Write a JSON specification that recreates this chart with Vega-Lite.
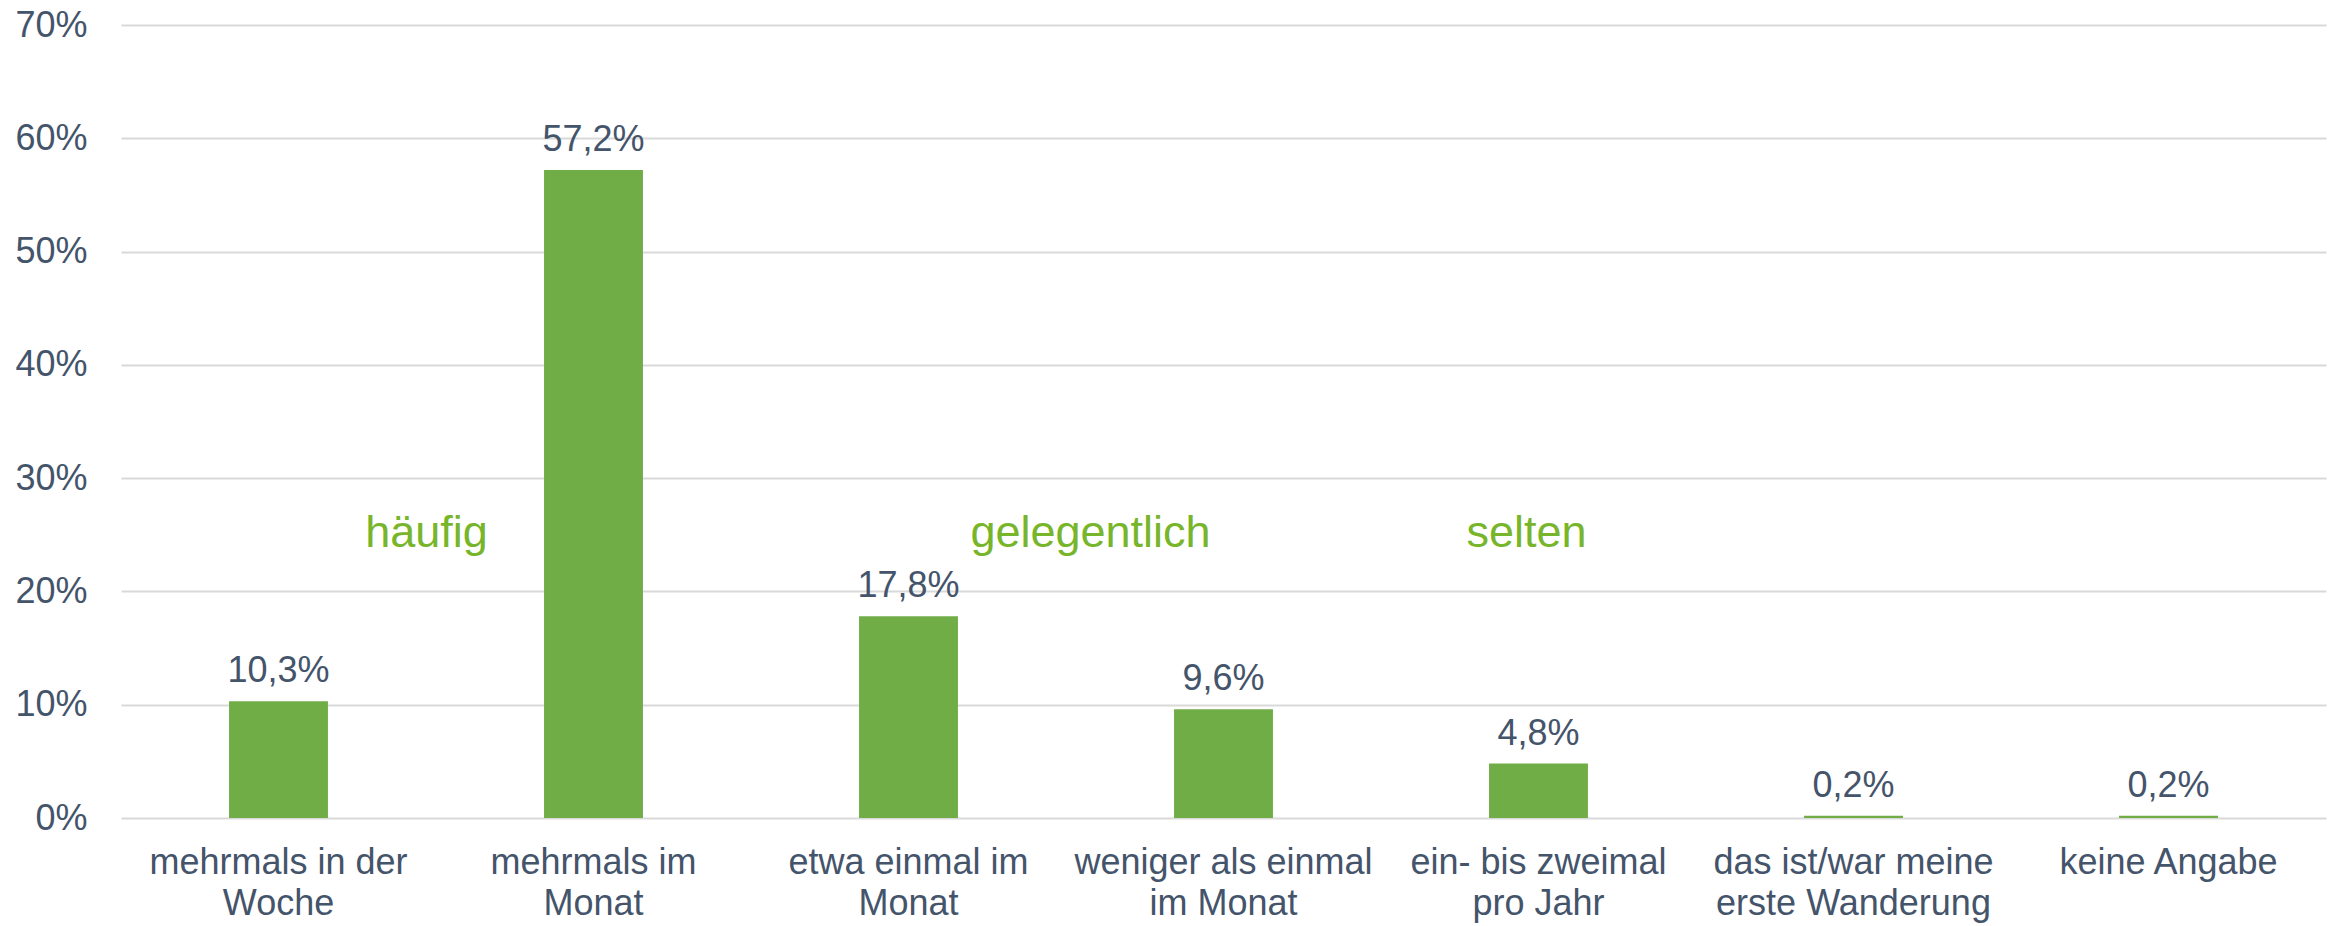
{
  "$schema": "https://vega.github.io/schema/vega-lite/v6.json",
  "width": 2205,
  "height": 793,
  "autosize": {"type": "none"},
  "padding": {"left": 121, "top": 25, "right": 2, "bottom": 108},
  "background": "white",
  "config": {
    "view": {"stroke": null},
    "font": "Liberation Sans",
    "locale": {"number": {"decimal": ",", "thousands": ".", "grouping": [3], "currency": ["", " €"]}}
  },
  "data": {
    "values": [
      {"kategorie": "mehrmals in der\nWoche", "anteil": 0.103},
      {"kategorie": "mehrmals im\nMonat", "anteil": 0.572},
      {"kategorie": "etwa einmal im\nMonat", "anteil": 0.178},
      {"kategorie": "weniger als einmal\nim Monat", "anteil": 0.096},
      {"kategorie": "ein- bis zweimal\npro Jahr", "anteil": 0.048},
      {"kategorie": "das ist/war meine\nerste Wanderung", "anteil": 0.002},
      {"kategorie": "keine Angabe", "anteil": 0.002}
    ]
  },
  "encoding": {
    "x": {
      "field": "kategorie",
      "type": "nominal",
      "sort": null,
      "scale": {"paddingInner": 0.686, "paddingOuter": 0.343},
      "axis": {
        "title": null,
        "labelAngle": 0,
        "domain": false,
        "ticks": false,
        "labelFontSize": 36,
        "labelColor": "#44546A",
        "labelPadding": 27,
        "labelLineHeight": 41,
        "labelLimit": 0,
        "labelExpr": "split(datum.label, '\\n')"
      }
    },
    "y": {
      "field": "anteil",
      "type": "quantitative",
      "scale": {"domain": [0, 0.7], "nice": false},
      "axis": {
        "title": null,
        "format": ".0%",
        "values": [0, 0.1, 0.2, 0.3, 0.4, 0.5, 0.6, 0.7],
        "labelOverlap": false,
        "domain": false,
        "ticks": false,
        "labelFontSize": 36,
        "labelColor": "#44546A",
        "labelPadding": 34,
        "gridColor": "#D9D9D9",
        "gridWidth": 2
      }
    }
  },
  "layer": [
    {"mark": {"type": "bar", "color": "#70AD47"}},
    {
      "mark": {"type": "text", "baseline": "alphabetic", "dy": -19, "fontSize": 36, "color": "#44546A"},
      "encoding": {"text": {"field": "anteil", "type": "quantitative", "format": ".1%"}}
    },
    {
      "data": {"values": [{"gruppe": "häufig", "kategorie": "mehrmals in der\nWoche", "hoehe": 0.2395}]},
      "mark": {"type": "text", "baseline": "alphabetic", "dx": 148, "fontSize": 45, "color": "#77B52B"},
      "encoding": {
        "x": {"field": "kategorie", "type": "nominal", "sort": null},
        "y": {"field": "hoehe", "type": "quantitative"},
        "text": {"field": "gruppe"}
      }
    },
    {
      "data": {"values": [{"gruppe": "gelegentlich", "kategorie": "etwa einmal im\nMonat", "hoehe": 0.2395}]},
      "mark": {"type": "text", "baseline": "alphabetic", "dx": 182, "fontSize": 45, "color": "#77B52B"},
      "encoding": {
        "x": {"field": "kategorie", "type": "nominal", "sort": null},
        "y": {"field": "hoehe", "type": "quantitative"},
        "text": {"field": "gruppe"}
      }
    },
    {
      "data": {"values": [{"gruppe": "selten", "kategorie": "ein- bis zweimal\npro Jahr", "hoehe": 0.2395}]},
      "mark": {"type": "text", "baseline": "alphabetic", "dx": -12, "fontSize": 45, "color": "#77B52B"},
      "encoding": {
        "x": {"field": "kategorie", "type": "nominal", "sort": null},
        "y": {"field": "hoehe", "type": "quantitative"},
        "text": {"field": "gruppe"}
      }
    }
  ]
}
